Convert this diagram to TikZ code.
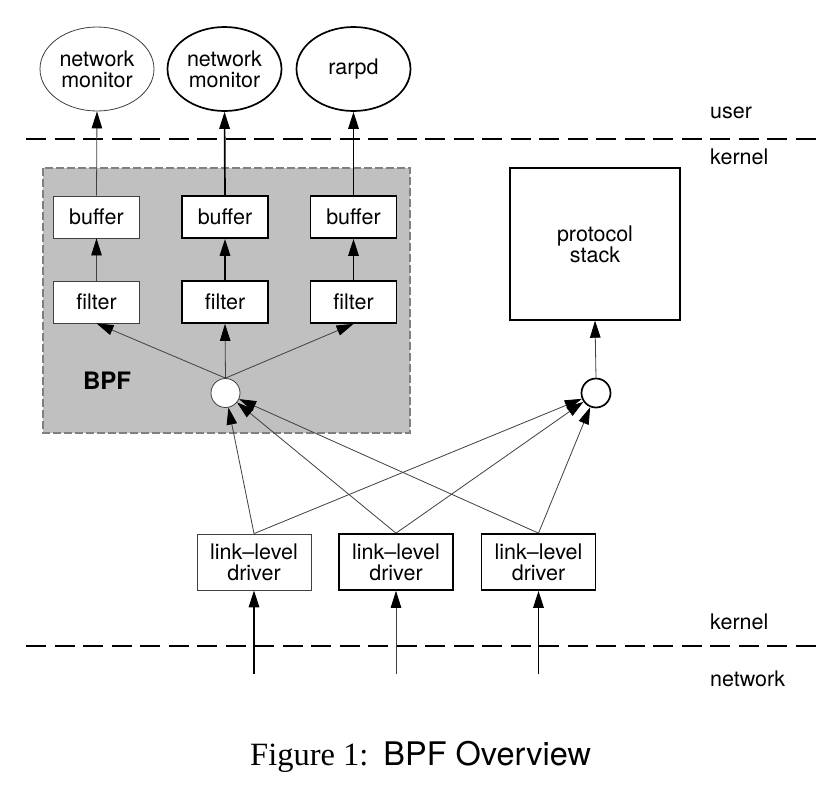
\documentclass[tikz,border=0pt]{standalone}
\usepackage{fontspec}
\setmainfont{TeX Gyre Heros}
\newfontfamily\timesfont{Liberation Serif}
\usetikzlibrary{arrows.meta,shapes.geometric}
\definecolor{boxgray}{HTML}{C0C0C0}
\definecolor{edgegray}{HTML}{808080}
\definecolor{thingray}{HTML}{404040}
\begin{document}
\begin{tikzpicture}[x=1pt,y=-1pt,
  lbl/.style={font=\fontsize{21.5}{21}\selectfont, align=center, inner sep=0pt},
  thinbox/.style={lbl, draw=thingray, line width=0.8pt, fill=white},
  thickbox/.style={lbl, draw=black, line width=1.7pt, fill=white},
  thinell/.style={thinbox, ellipse, minimum width=114pt, minimum height=84pt},
  thickell/.style={thickbox, ellipse, minimum width=114pt, minimum height=84pt},
  smallbox/.style={minimum width=86pt, minimum height=42pt},
  drvbox/.style={minimum width=114pt, minimum height=56pt},
  dot/.style={circle, minimum size=29pt, inner sep=0pt, fill=white},
  tip/.style={-{Triangle[length=17pt,width=10.5pt,color=black]}},
  thinarrow/.style={tip, draw=thingray, line width=0.8pt},
  thickarrow/.style={tip, draw=black, line width=1.7pt},
  sep/.style={draw=black, line width=1.5pt, dash pattern=on 20pt off 8.5pt},
  side/.style={font=\fontsize{21.5}{21}\selectfont, anchor=west, inner sep=0pt}
]
\useasboundingbox (0,0) rectangle (836,798);
\fill[white] (0,0) rectangle (836,798);

% BPF gray region
\draw[fill=boxgray, draw=edgegray, line width=1.2pt, dash pattern=on 8pt off 3pt] (43,168) rectangle (410,433);
\node[font=\bfseries\fontsize{24}{24}\selectfont, inner sep=0pt] (bpf) at (107,381) {BPF};

% separators
\coordinate (s1a) at (26,139); \coordinate (s1b) at (816,139);
\coordinate (s2a) at (26,646); \coordinate (s2b) at (817,646);
\draw[sep] (s1a) -- (s1b);
\draw[sep] (s2a) -- (s2b);
\node[side] (user) at (710,113) {user};
\node[side] (kern1) at (710,157) {kernel};
\node[side] (kern2) at (710,622) {kernel};
\node[side] (net) at (710,679) {network};

% user processes
\node[thinell] (m1) at (97,69) {network\\monitor};
\node[thickell] (m2) at (224.5,69) {network\\monitor};
\node[thickell] (rarp) at (353.5,69) {rarpd};

% buffers and filters
\node[thinbox, smallbox] (b1) at (96.5,217) {buffer};
\node[thickbox, smallbox] (b2) at (225,217) {buffer};
\node[thickbox, smallbox] (b3) at (353.5,217) {buffer};
\node[thinbox, smallbox] (f1) at (96.5,302) {filter};
\node[thickbox, smallbox] (f2) at (225,302) {filter};
\node[thickbox, smallbox] (f3) at (353.5,302) {filter};

% taps
\node[dot, draw=thingray, line width=0.8pt] (c1) at (225.5,393) {};
\node[dot, draw=black, line width=1.7pt] (c2) at (596,393) {};

% protocol stack
\node[lbl, draw=black, line width=1.4pt, fill=white, minimum width=170pt, minimum height=152pt] (ps) at (595,244) {protocol\\stack};

% drivers
\node[thinbox, drvbox] (d1) at (254,562) {link--level\\driver};
\node[thickbox, drvbox] (d2) at (396,562) {link--level\\driver};
\node[thickbox, drvbox] (d3) at (538.5,562) {link--level\\driver};

% network inputs
\coordinate (n1) at (254,674);
\coordinate (n2) at (396,674);
\coordinate (n3) at (538.5,674);
\draw[thickarrow] (n1) -- (d1.south);
\draw[thinarrow] (n2) -- (d2.south);
\draw[thickarrow] (n3) -- (d3.south);

% drivers to taps
\draw[thinarrow] (d1.north) -- (c1);
\draw[thinarrow] (d2.north) -- (c1);
\draw[thinarrow] (d3.north) -- (c1);
\draw[thinarrow] (d1.north) -- (c2);
\draw[thinarrow] (d2.north) -- (c2);
\draw[thinarrow] (d3.north) -- (c2);

% tap to filters / stack
\draw[thinarrow] (c1.north) -- (f1.south);
\draw[thinarrow] (c1.north) -- (f2.south);
\draw[thinarrow] (c1.north) -- (f3.south);
\draw[thinarrow] (c2.north) -- (ps.south);

% filter to buffer
\draw[thinarrow] (f1.north) -- (b1.south);
\draw[thickarrow] (f2.north) -- (b2.south);
\draw[thickarrow] (f3.north) -- (b3.south);

% buffer to user
\draw[thinarrow] (b1.north) -- (m1.south);
\draw[thickarrow] (b2.north) -- (m2.south);
\draw[thickarrow] (b3.north) -- (rarp.south);

% caption
\node[anchor=base west, inner sep=0pt] (cap) at (250,765) {\fontsize{32.5}{32}\selectfont{\timesfont Figure 1:}\hspace{15pt}BPF Overview};
\end{tikzpicture}
\end{document}
